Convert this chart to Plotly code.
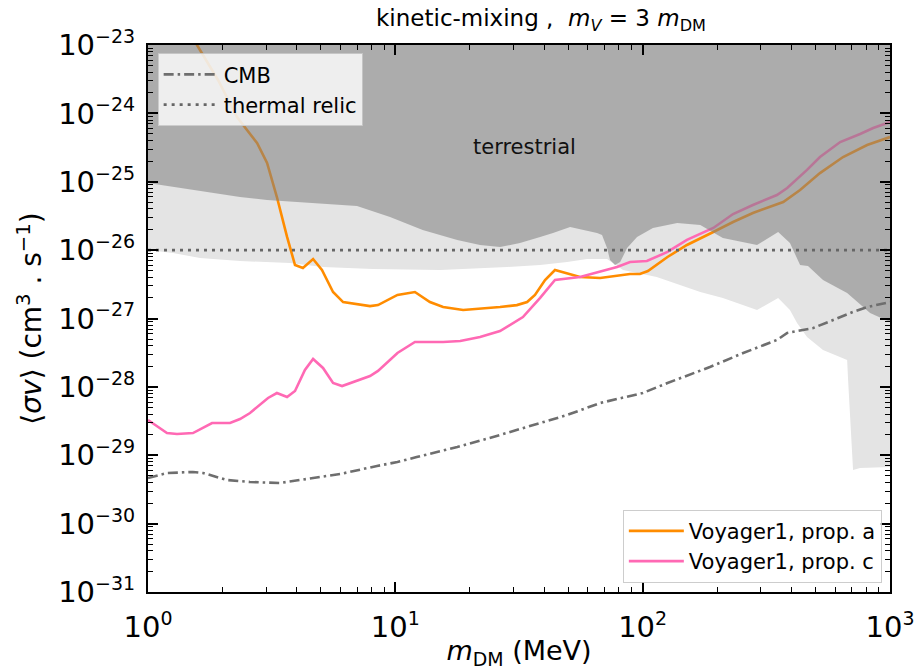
import plotly.graph_objects as go

# ---------------- data ----------------
orange_x = [1.42, 1.578, 1.919, 2.29, 2.76, 3.03, 3.32, 3.65, 3.93, 4.23, 4.65, 5.05, 5.60, 6.15, 7.90, 8.51,
            10.2, 12.0, 13.8, 15.6, 18.8, 22.0, 26.5, 31.0, 34.1, 36.7, 40.3, 44.2, 55.8, 67.3, 78.8, 88.9,
            97.5, 105, 126, 151, 193, 232, 279, 370, 433, 521, 646, 808, 1000]
orange_y = [2.0e-23, 1.0e-23, 3.08e-24, 8.85e-25, 3.69e-25, 1.88e-25, 5.98e-26, 1.56e-26, 6.06e-27, 5.48e-27,
            7.41e-27, 5.12e-27, 2.44e-27, 1.74e-27, 1.52e-27, 1.57e-27, 2.21e-27, 2.44e-27, 1.74e-27, 1.47e-27,
            1.33e-27, 1.38e-27, 1.47e-27, 1.57e-27, 1.74e-27, 2.21e-27, 3.66e-27, 5.12e-27, 4.05e-27, 3.91e-27,
            4.19e-27, 4.48e-27, 4.48e-27, 4.95e-27, 7.93e-27, 1.19e-26, 1.84e-26, 2.58e-26, 3.49e-26, 5.06e-26,
            7.57e-26, 1.34e-25, 2.30e-25, 3.45e-25, 4.51e-25]

pink_x = [1.0, 1.193, 1.31, 1.52, 1.815, 2.146, 2.355, 2.585, 3.057, 3.32, 3.65, 3.93, 4.31, 4.65, 5.10, 5.60,
          6.09, 6.74, 7.90, 8.51, 10.2, 12.0, 15.6, 18.3, 22.0, 26.5, 32.8, 38.5, 44.2, 55.8, 67.3, 78.8, 88.9,
          104, 126, 151, 193, 232, 279, 349, 384, 462, 521, 629, 757, 855, 1000]
pink_y = [3.28e-29, 2.11e-29, 2.05e-29, 2.11e-29, 2.96e-29, 2.96e-29, 3.39e-29, 4.15e-29, 6.88e-29, 8.13e-29,
          7.11e-29, 8.70e-29, 1.77e-28, 2.56e-28, 1.89e-28, 1.14e-28, 1.03e-28, 1.18e-28, 1.44e-28, 1.71e-28,
          3.13e-28, 4.53e-28, 4.53e-28, 4.69e-28, 5.36e-28, 6.56e-28, 1.05e-27, 2.0e-27, 3.66e-27, 4.05e-27,
          4.79e-27, 5.66e-27, 6.70e-27, 6.93e-27, 9.40e-27, 1.41e-26, 2.11e-26, 3.37e-26, 4.57e-26, 6.40e-26,
          8.11e-26, 1.49e-25, 2.30e-25, 3.81e-25, 4.99e-25, 6.11e-25, 7.48e-25]

cmb_x = [1.0, 1.193, 1.52, 1.669, 2.087, 2.585, 3.42, 4.40, 5.98, 8.43, 10.2, 12.2, 17.8, 26.5, 36.0, 49.5,
         67.3, 100, 126, 187, 255, 349, 384, 489, 589, 709, 808, 1000]
cmb_y = [4.65e-30, 5.50e-30, 5.69e-30, 5.50e-30, 4.35e-30, 4.06e-30, 3.93e-30, 4.50e-30, 5.32e-30, 6.97e-30,
         7.96e-30, 9.42e-30, 1.32e-29, 1.98e-29, 2.77e-29, 3.88e-29, 5.81e-29, 8.13e-29, 1.14e-28, 1.95e-28,
         3.13e-28, 4.85e-28, 6.14e-28, 7.26e-28, 9.51e-28, 1.25e-27, 1.47e-27, 1.74e-27]

thermal_x = [1.0, 1000.0]
thermal_y = [1e-26, 1e-26]

terr_x = [1.0, 1.262, 1.733, 2.355, 3.03, 4.40, 7.0, 9.52, 12.9, 17.8, 22.0, 26.5, 31.9, 38.5, 43.4, 50.9,
          55.8, 65.4, 68.5, 71.8, 73.8, 77.3, 81.1, 86.5, 94.9, 110, 138, 171, 211, 290, 353, 394, 433, 466,
          536, 671, 831, 1000]
terr_y = [9.59e-26, 8.38e-26, 7.08e-26, 5.98e-26, 5.41e-26, 4.89e-26, 4.42e-26, 3.05e-26, 1.97e-26, 1.41e-26,
          1.19e-26, 1.11e-26, 1.27e-26, 1.56e-26, 1.78e-26, 2.18e-26, 2.04e-26, 1.78e-26, 1.66e-26, 1.07e-26,
          7.18e-27, 6.06e-27, 6.70e-27, 1.07e-26, 1.56e-26, 2.11e-26, 2.49e-26, 2.33e-26, 1.50e-26, 1.19e-26,
          1.84e-26, 1.27e-26, 6.06e-27, 5.86e-27, 3.66e-27, 2.36e-27, 1.20e-27, 8.89e-28]

light_x = [1.0, 1.262, 1.623, 2.355, 3.75, 5.10, 8.12, 15.2, 28.3, 38.5, 49.5, 59.6, 71.8, 83.3, 114, 171,
           211, 290, 353, 394, 421, 462, 536, 671, 677, 709, 757, 1000]
light_y = [1.0e-26, 9.08e-27, 7.67e-27, 6.93e-27, 6.48e-27, 5.66e-27, 5.30e-27, 5.12e-27, 5.66e-27, 6.06e-27,
           6.70e-27, 7.41e-27, 7.41e-27, 5.12e-27, 4.05e-27, 2.44e-27, 2.0e-27, 1.33e-27, 2.0e-27, 1.33e-27,
           8.59e-28, 5.36e-28, 3.46e-28, 2.47e-28, 1.26e-28, 6.08e-30, 6.50e-30, 6.73e-30]

y_top = 1e-23
x_tickvals = [1, 10, 100, 1000]
x_exps = [0, 1, 2, 3]
y_exps = list(range(-31, -22))
y_tickvals = [10.0 ** e for e in y_exps]

SUP = "<sup><span style='font-size:19px'>%s</span></sup>"
x_ticktext = ["10" + SUP % str(e) for e in x_exps]
y_ticktext = ["10" + SUP % ("\u2212%d" % (-e)) for e in y_exps]

x_minor = [m * 10.0 ** d for d in range(0, 3) for m in range(2, 10)]
y_minor = [m * 10.0 ** d for d in range(-31, -23) for m in range(2, 10)]

FONT = "DejaVu Sans"

fig = go.Figure()

# light gray region (drawn under the lines)
fig.add_trace(go.Scatter(
    x=light_x + [light_x[-1], light_x[0]], y=light_y + [y_top, y_top],
    fill="toself", fillcolor="rgb(228,228,228)", line=dict(width=0),
    mode="lines", showlegend=False, hoverinfo="skip"))

fig.add_trace(go.Scatter(x=orange_x, y=orange_y, mode="lines", name="Voyager1, prop. a",
                         line=dict(color="#ff8c00", width=2.6), legend="legend2"))
fig.add_trace(go.Scatter(x=pink_x, y=pink_y, mode="lines", name="Voyager1, prop. c",
                         line=dict(color="#ff69b4", width=2.6), legend="legend2"))

# terrestrial region (semi-transparent, over the lines)
fig.add_trace(go.Scatter(
    x=terr_x + [terr_x[-1], terr_x[0]], y=terr_y + [y_top, y_top],
    fill="toself", fillcolor="rgba(128,128,128,0.56)", line=dict(width=0),
    mode="lines", showlegend=False, hoverinfo="skip"))

fig.add_trace(go.Scatter(x=cmb_x, y=cmb_y, mode="lines", name="CMB",
                         line=dict(color="#6e6e6e", width=2.6, dash="10px,4px,2.5px,4px"),
                         legend="legend"))
fig.add_trace(go.Scatter(x=thermal_x, y=thermal_y, mode="lines", name="thermal relic",
                         line=dict(color="#666666", width=2.8, dash="3px,5px"),
                         legend="legend"))

fig.add_annotation(x=0.508, y=0.813, xref="paper", yref="paper", text="terrestrial",
                   xanchor="center", yanchor="middle",
                   showarrow=False, font=dict(family=FONT, size=21, color="#111111"))

axis_common = dict(
    type="log", showgrid=False, zeroline=False, showline=True, linecolor="black", linewidth=2,
    mirror="allticks", ticks="inside", ticklen=10, tickwidth=1.6, tickcolor="black",
    tickfont=dict(family=FONT, size=29, color="black"), automargin=False,
)

fig.update_layout(
    width=917, height=670,
    margin=dict(l=148, r=27, t=45, b=78, autoexpand=False),
    paper_bgcolor="white", plot_bgcolor="white",
    title=dict(text="kinetic-mixing ,  <i>m</i><sub><i>V</i></sub> = 3 <i>m</i><sub>DM</sub>",
               x=0.59, xanchor="center", y=0.973, yanchor="middle",
               font=dict(family=FONT, size=23, color="black")),
    xaxis=dict(**axis_common, range=[0, 3], tickmode="array", tickvals=x_tickvals, ticktext=x_ticktext,
               minor=dict(tickvals=x_minor, ticks="inside", ticklen=5, tickwidth=1.2, tickcolor="black"),
               ticklabelstandoff=8,
               title=dict(text="<i>m</i><sub>DM</sub> (MeV)", font=dict(family=FONT, size=27, color="black"),
                          standoff=10)),
    yaxis=dict(**axis_common, range=[-31, -23], tickmode="array", tickvals=y_tickvals, ticktext=y_ticktext,
               minor=dict(tickvals=y_minor, ticks="inside", ticklen=5, tickwidth=1.2, tickcolor="black"),
               ticklabelstandoff=5,
               title=dict(text="\u27e8<i>\u03c3v</i>\u27e9 (cm<sup>3</sup> . s<sup>\u22121</sup>)",
                          font=dict(family=FONT, size=28, color="black"), standoff=8)),
    legend=dict(x=0.013, y=0.985, xanchor="left", yanchor="top",
                bgcolor="rgba(255,255,255,0.8)", bordercolor="rgba(200,200,200,0.9)", borderwidth=1,
                font=dict(family=FONT, size=21, color="black"), tracegroupgap=2, itemwidth=55),
    legend2=dict(x=0.989, y=0.017, xanchor="right", yanchor="bottom",
                 bgcolor="rgba(255,255,255,0.8)", bordercolor="rgba(200,200,200,0.9)", borderwidth=1,
                 font=dict(family=FONT, size=21, color="black"), tracegroupgap=2, itemwidth=55),
)

fig.write_html("out.html")
